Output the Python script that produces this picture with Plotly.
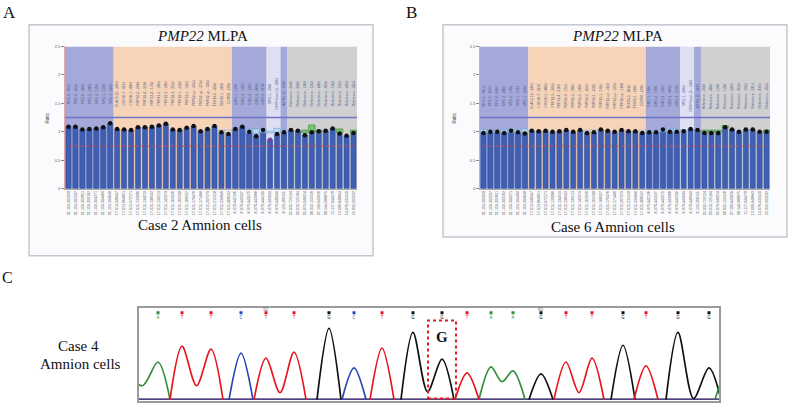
import plotly.graph_objects as go

W, H = 789, 405
def px(x): return x / W
def py(y): return 1 - y / H

# ---------------- MLPA data ----------------
region_sizes = [7, 17, 5, 2, 1, 10]
region_kinds = ["target", "pmp22", "target", "minor", "target", "reference"]

probe_labels = [
    "MPZ-6 - 301d", "MPZ-5 - 256d", "MPZ-4 - 220d", "MPZ-3 - 280d", "MPZ-2 - 178d", "MPZ-1 - 154d", "MPZ-1 - 226d",
    "ELAC2-15 - 346d", "COX10-7 - 427d", "COX10-1 - 400d", "PMP22-5 - 246d", "PMP22-4 - 310d", "PMP22-4 - 175d",
    "PMP22-3 - 190d", "PMP22-3 - 148d", "PMP22-2 - 256d", "PMP22-1 - 238d", "PMP22-1 - 142d", "PMP22-up - 365d",
    "PMP22-up - 373d", "PMP22-up - 184d", "TEKT3-5 - 202d", "TEKT3-1 - 283d", "CDRT4 - 279d",
    "GJB1-1 - 185d", "GJB1-2 - 160d", "GJB1-2 - 139d", "GJB1-2 - 409d", "GJB1-2 - 219d",
    "MPZ-1 - 394d", "NPHP/near-15 - 328d",
    "AIFM1-15 - 418d",
    "Reference - 364d", "Reference - 382d", "Reference - 130d", "Reference - 136d", "Reference - 220d",
    "Reference - 463d", "Reference - 166d", "Reference - 391d", "Reference - 436d", "Reference - 355d",
]
position_labels = [
    "01-159.302028", "01-159.302507", "01-159.302851", "01-159.303162", "01-159.304271", "01-159.304460", "01-159.304648",
    "17-013.348447", "17-013.864851", "17-013.972171", "17-015.133086", "17-015.134019", "17-015.138502",
    "17-015.139513", "17-015.142274", "17-015.162926", "17-015.163108", "17-015.168327", "17-015.170476",
    "17-015.171466", "17-015.207279", "17-015.215318", "17-015.339846", "17-015.468592",
    "X-070.442126", "X-070.443327", "X-070.443573", "X-070.443968", "X-070.444109",
    "X-070.445694", "X-070.448344",
    "X-129.266155",
    "02-032.729124", "03-010.125164", "05-079.046014", "06-032.159316", "07-100.643026",
    "08-144.988875", "11-117.044278", "12-006.648843", "14-076.432410", "22-032.903232",
]

ratio_A = [1.09, 1.09, 1.04, 1.05, 1.06, 1.08, 1.15,
           1.05, 1.04, 1.03, 1.08, 1.08, 1.09, 1.11, 1.14, 1.04, 1.03, 1.07, 1.10, 1.01, 1.05, 1.10, 0.99, 0.96,
           1.05, 1.09, 1.00, 0.92, 1.03,
           0.86, 0.96,
           0.99,
           1.03, 1.02, 0.94, 0.99, 1.01, 1.02, 1.06, 0.97, 0.93, 0.98]
ratio_B = [0.98, 1.00, 1.00, 0.98, 1.02, 0.99, 0.97,
           1.02, 1.01, 1.02, 1.00, 1.01, 1.03, 1.00, 1.03, 0.98, 0.99, 1.04, 1.02, 1.00, 1.03, 1.01, 1.01, 0.98,
           0.99, 0.99, 1.04, 1.00, 1.00,
           1.01, 1.05,
           1.03,
           0.98, 0.98, 0.98, 1.08, 1.04, 1.00, 1.04, 1.04, 1.00, 1.00]

box_idx_A = [22, 23, 26, 27, 28, 29, 30, 31, 34, 35, 36, 39, 41]
box_lo_A = [0.98, 0.98, 0.98, 0.97, 0.99, 0.98, 0.98, 0.99, 0.98, 1.00, 1.00, 0.98, 0.98]
box_hi_A = [1.03, 1.03, 1.05, 1.05, 1.05, 1.01, 1.06, 1.03, 1.03, 1.12, 1.03, 1.05, 1.03]

box_idx_B = [0, 1, 2, 3, 4, 5, 6, 15, 16, 23, 24, 25, 26, 27, 28, 29, 32, 33, 34, 35, 41]
box_lo_B = [0.99, 0.99, 0.99, 0.99, 0.99, 0.99, 0.99, 0.99, 0.99, 0.99, 0.99, 0.99, 1.00, 1.00, 1.00, 0.99,
            0.99, 0.99, 0.99, 1.07, 0.99]
box_hi_B = [1.04, 1.03, 1.03, 1.04, 1.04, 1.04, 1.05, 1.03, 1.03, 1.03, 1.02, 1.03, 1.05, 1.05, 1.05, 1.03,
            1.03, 1.03, 1.03, 1.11, 1.03]

upper_limit = 1.25
lower_limit = 0.75
y_ticks = [0, 0.5, 1, 1.5, 2, 2.5]
y_tick_text = ["0", "0.5", "1", "1.5", "2", "2.5"]

# ---------------- Sequencing data ----------------
peak_pos = [-12, 19, 43, 72, 102, 127, 155, 190, 215, 243, 274, 303, 328, 352, 374, 402, 427, 453, 484, 507,
            539, 570, 588]
peak_height = [22, 38, 54, 51, 47, 42, 48, 72, 32, 52, 68, 41, 27, 33, 29, 26, 38, 42, 55, 34, 68, 32, 28]
peak_base = "AATTCTTGCTGGTAAGTTGTGGA"
trough_height = [14, None, 14, None, None, 7, None, None, None, None, 8, None, None, 18, None, None, 7, None,
                 None, None, 1, None]
first_called_number = 46
highlight_peak = 11

# ---------------- styles ----------------
region_fill = {"target": "#a4a9d9", "pmp22": "#f7d4b8", "minor": "#dedff3", "reference": "#d0d0d2"}
box_style = {"target": ("#b9dff6", "#7aa6d8"), "minor": ("#b9dff6", "#7aa6d8"),
             "pmp22": ("#efe6b9", "#8db0d6"), "reference": ("#6cbf5f", "#3d8f3a")}
base_color = {"A": "#2f8f3a", "C": "#2448b8", "G": "#111111", "T": "#e8161e"}
SERIF = "Liberation Serif"

kinds = []
for k, s in zip(region_kinds, region_sizes):
    kinds += [k] * s
n = len(ratio_A)

fig = go.Figure()
shapes = []
annotations = []

def paper_text(x, y, text, size, color="#111", family=SERIF, angle=0):
    return dict(x=px(x), y=py(y), xref="paper", yref="paper", text=text, showarrow=False,
                xanchor="center", yanchor="middle", textangle=angle,
                font=dict(size=size, color=color, family=family))

panels = [
    dict(ax="x", ay="y", ratios=ratio_A, bi=box_idx_A, blo=box_lo_A, bhi=box_hi_A,
         dom=(65, 357), frame=(29, 22, 373, 256), title_x=202, caption="Case 2 Amnion cells",
         cap=(200, 225), label_y=1.67, ratio_x=48),
    dict(ax="x2", ay="y2", ratios=ratio_B, bi=box_idx_B, blo=box_lo_B, bhi=box_hi_B,
         dom=(480, 770), frame=(443, 22, 787, 237), title_x=617, caption="Case 6 Amnion cells",
         cap=(613, 227), label_y=1.63, ratio_x=455),
]

for p in panels:
    ax, ay = p["ax"], p["ay"]
    fx0, fy0, fx1, fy1 = p["frame"]
    shapes.append(dict(type="rect", xref="paper", yref="paper", x0=px(fx0), x1=px(fx1), y0=py(fy1), y1=py(fy0),
                       line=dict(color="#c3c7cf", width=1.5), fillcolor="#fbfbfd", layer="below"))
    start = 0
    for k, s in zip(region_kinds, region_sizes):
        shapes.append(dict(type="rect", xref=ax, yref=ay, x0=start - 0.5, x1=start + s - 0.5, y0=0, y1=2.5,
                           line=dict(width=0), fillcolor=region_fill[k], layer="below"))
        start += s
    shapes.append(dict(type="line", xref=ax, yref=ay, x0=-0.5, x1=n - 0.5, y0=upper_limit, y1=upper_limit,
                       line=dict(color="#6c74c6", width=1.6), layer="below"))
    fig.add_trace(go.Bar(x=list(range(n)), y=p["ratios"], xaxis=ax, yaxis=ay, width=0.74,
                         marker=dict(color="#3e5fb4", line=dict(color="#2b468f", width=0.5)),
                         showlegend=False, hoverinfo="skip"))
    fig.add_trace(go.Bar(x=p["bi"], y=[h - l for l, h in zip(p["blo"], p["bhi"])], base=p["blo"],
                         xaxis=ax, yaxis=ay, width=0.92, opacity=0.85,
                         marker=dict(color=[box_style[kinds[i]][0] for i in p["bi"]],
                                     line=dict(color=[box_style[kinds[i]][1] for i in p["bi"]], width=0.8)),
                         showlegend=False, hoverinfo="skip"))
    fig.add_trace(go.Scatter(x=list(range(n)), y=[lower_limit] * n, xaxis=ax, yaxis=ay, mode="lines",
                             line=dict(color="#e0483c", width=1, dash="dot"), showlegend=False, hoverinfo="skip"))
    fig.add_trace(go.Scatter(x=list(range(n)), y=p["ratios"], xaxis=ax, yaxis=ay, mode="markers",
                             marker=dict(size=4.5, color=["#7a3fa0" if r < 0.9 else "#111111" for r in p["ratios"]]),
                             showlegend=False, hoverinfo="skip"))
    for i, lab in enumerate(probe_labels):
        annotations.append(dict(x=i, y=p["label_y"], xref=ax, yref=ay, text=lab, textangle=-90, showarrow=False,
                                xanchor="center", yanchor="middle",
                                font=dict(size=3.3, color="#4b5a86", family="Arial")))
    annotations.append(paper_text(p["title_x"], 33, "<i>PMP22</i> MLPA", 15))
    annotations.append(paper_text(p["cap"][0], p["cap"][1], p["caption"], 15))
    annotations.append(paper_text(p["ratio_x"], 117, "Ratio", 4.5, "#444", "Arial", -90))

# ---------------- chromatogram ----------------
FOOT = 12
segs = {b: ([], []) for b in "ACGT"}
i = 0
npk = len(peak_pos)
while i < npk:
    b = peak_base[i]
    xs, ys = segs[b]
    if xs:
        xs.append(None); ys.append(None)
    xs.append(peak_pos[i] - FOOT); ys.append(0)
    xs.append(peak_pos[i]); ys.append(peak_height[i])
    while i + 1 < npk and peak_base[i + 1] == b and trough_height[i] is not None:
        xs.append((peak_pos[i] + peak_pos[i + 1]) / 2); ys.append(trough_height[i])
        i += 1
        xs.append(peak_pos[i]); ys.append(peak_height[i])
    xs.append(peak_pos[i] + FOOT); ys.append(0)
    i += 1

for b in "GATC":
    fig.add_trace(go.Scatter(x=[0, 580], y=[0.3, 0.3], xaxis="x3", yaxis="y3", mode="lines",
                             line=dict(color=base_color[b], width=1.2), showlegend=False, hoverinfo="skip"))
for b in "GACT":
    xs, ys = segs[b]
    fig.add_trace(go.Scatter(x=xs, y=ys, xaxis="x3", yaxis="y3", mode="lines",
                             line=dict(color=base_color[b], width=1.7, shape="spline", smoothing=0.9),
                             connectgaps=False, showlegend=False, hoverinfo="skip"))

called = [k for k in range(npk) if 0 <= peak_pos[k] <= 580]
fig.add_trace(go.Scatter(x=[peak_pos[k] for k in called], y=[88] * len(called), xaxis="x3", yaxis="y3",
                         mode="markers+text", text=[peak_base[k] for k in called], textposition="bottom center",
                         textfont=dict(size=4.5, color=[base_color[peak_base[k]] for k in called]),
                         marker=dict(symbol="square", size=3, color=[base_color[peak_base[k]] for k in called]),
                         showlegend=False, hoverinfo="skip"))
for j, k in enumerate(called):
    num = first_called_number + j
    if num % 10 == 0:
        annotations.append(dict(x=peak_pos[k], y=91.5, xref="x3", yref="y3", text=str(num), showarrow=False,
                                xanchor="center", yanchor="middle",
                                font=dict(size=4.5, color="#777", family="Arial")))

hx = peak_pos[highlight_peak]
shapes.append(dict(type="rect", xref="x3", yref="y3", x0=hx - 14, x1=hx + 14, y0=1, y1=80,
                   line=dict(color="#e21b1b", width=2, dash="dot")))
annotations.append(dict(x=hx, y=63, xref="x3", yref="y3", text="<b>G</b>", showarrow=False,
                        xanchor="center", yanchor="middle",
                        font=dict(size=15, color="#111", family=SERIF)))

annotations += [
    paper_text(78, 347, "Case 4", 15),
    paper_text(80, 366, "Amnion cells", 15),
    paper_text(9, 10, "A", 17),
    paper_text(412, 10, "B", 17),
    paper_text(8, 278, "C", 16),
]

def xax(dom):
    return dict(domain=[px(dom[0]), px(dom[1])], range=[-0.5, n - 0.5], tickmode="array",
                tickvals=list(range(n)), ticktext=position_labels, tickangle=-90,
                tickfont=dict(size=3.6, color="#555", family="Arial"), showline=True, linecolor="#aaaaaa",
                linewidth=1, ticks="", showgrid=False, zeroline=False)

def yax(anchor):
    return dict(domain=[py(188), py(44)], range=[0, 2.5], anchor=anchor, tickmode="array", tickvals=y_ticks,
                ticktext=y_tick_text, ticks="outside", ticklen=3, tickcolor="#888", tickwidth=0.8,
                tickfont=dict(size=4, color="#555", family="Arial"), showline=True, linecolor="#e6a6a6",
                linewidth=1, showgrid=False, zeroline=False)

fig.update_layout(
    width=W, height=H, margin=dict(l=0, r=0, t=0, b=0),
    paper_bgcolor="white", plot_bgcolor="rgba(0,0,0,0)",
    barmode="overlay", showlegend=False,
    xaxis=dict(xax(panels[0]["dom"]), anchor="y"),
    yaxis=yax("x"),
    xaxis2=dict(xax(panels[1]["dom"]), anchor="y2"),
    yaxis2=yax("x2"),
    xaxis3=dict(domain=[px(139), px(719)], range=[0, 580], anchor="y3", showline=True, mirror=True,
                linecolor="#9a9a9a", linewidth=1.5, showticklabels=False, ticks="", showgrid=False,
                zeroline=False),
    yaxis3=dict(domain=[py(403), py(309)], range=[-1.5, 92.5], anchor="x3", showline=True, mirror=True,
                linecolor="#9a9a9a", linewidth=1.5, showticklabels=False, ticks="", showgrid=False,
                zeroline=False),
    shapes=shapes, annotations=annotations,
)

fig.write_html("out.html", config={"displayModeBar": False},
               post_script="document.body.style.margin='0px';document.body.style.overflow='hidden';")
